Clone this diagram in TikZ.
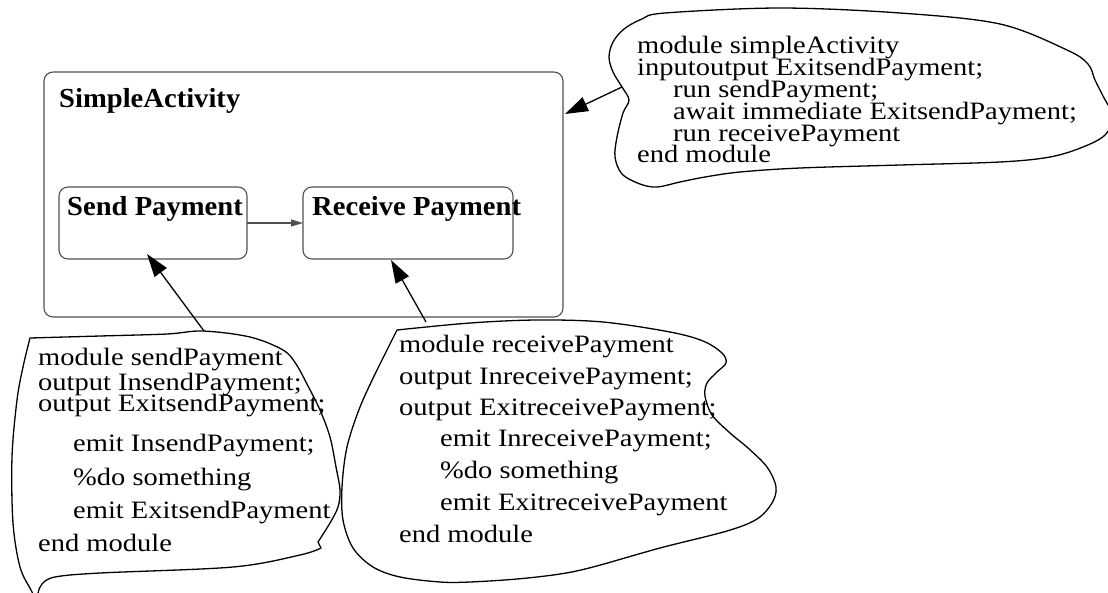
\documentclass[tikz,border=0pt]{standalone}
\usepackage{fontspec}
\newfontfamily\codefont[FakeStretch=1.14]{Liberation Serif}
\newfontfamily\labfont[FakeStretch=1.04]{Liberation Serif}
\usetikzlibrary{arrows.meta}
\definecolor{boxgray}{RGB}{80,80,80}
\tikzset{
 box/.style={draw=boxgray, line width=1.1pt, rounded corners=9pt, inner sep=0pt, outer sep=0pt},
 code/.style={font=\codefont\fontsize{25}{25}\selectfont, inner sep=0pt, anchor=base west},
 lab/.style={font=\labfont\fontsize{27.5}{27.5}\selectfont\bfseries, inner sep=0pt, anchor=base west},
 callout/.style={draw=black, line width=1.3pt, line join=round},
 bigarrow/.style={draw=black, line width=1.3pt, -{Triangle[length=23pt,width=15pt]}},
 smallarrow/.style={draw=boxgray, line width=1.1pt, -{Triangle[length=12pt,width=7pt]}},
}
\begin{document}
\begin{tikzpicture}[x=1pt,y=-1pt]
\useasboundingbox (0,0) rectangle (1108,592);
\clip (0,0) rectangle (1108,592);
% boxes
\node[box, minimum width=519pt, minimum height=245pt] (outer) at (303.5,194.5) {};
\node[box, minimum width=188pt, minimum height=72pt] (send) at (153,223) {};
\node[box, minimum width=210pt, minimum height=72pt] (recv) at (408,223) {};
\node[lab] (outerlab) at (59,107) {SimpleActivity};
\node[lab] (sendlab) at (67,215) {Send Payment};
\node[lab] (recvlab) at (312,215) {Receive Payment};
\draw[smallarrow] (send.east) -- (recv.west);

% top callout
\draw[callout] plot[smooth cycle, tension=0.55] coordinates {(609,57) (613,42) (624,29) (642,19) (665,13) (780,8) (900,13) (1000,24) (1067,50) (1088,64) (1095,80) (1103,96) (1113,117) (1105,135) (1083,147) (1050,157) (1000,162) (900,165) (800,168) (740,172) (705,177) (680,182) (657,187) (640,184) (622,174) (615,157) (617,137) (623,113) (629,100) (622,87) (613,72)};
\node[code] (t1) at (637,53) {module simpleActivity};
\node[code] (t2) at (637,75) {inputoutput ExitsendPayment;};
\node[code] (t3) at (673,97) {run sendPayment;};
\node[code] (t4) at (673,119) {await immediate ExitsendPayment;};
\node[code] (t5) at (673,141) {run receivePayment};
\node[code] (t6) at (637,162) {end module};

% send callout
\draw[callout] plot[smooth, tension=0.55] coordinates {(30,338) (100,336) (167,334) (203,331) (250,337) (283,350) (296,364) (308,386) (320,410) (330,437) (336,467) (340,490) (338,507) (330,523) (318,542)} -- (321,548) -- plot[smooth, tension=0.55] coordinates {(321,548) (300,555) (233,567) (100,573) (55,577) (42,584) (38,593) (37,602)} -- plot[smooth, tension=0.55] coordinates {(37,602) (31,590) (20,567) (13,523) (12,457) (17,400) (23,367) (30,338)} -- cycle;
\node[code] (s1) at (38,365) {module sendPayment};
\node[code] (s2) at (38,390) {output InsendPayment;};
\node[code] (s3) at (38,411) {output ExitsendPayment;};
\node[code] (s4) at (73,451) {emit InsendPayment;};
\node[code] (s5) at (73,485) {\%do something};
\node[code] (s6) at (73,518) {emit ExitsendPayment};
\node[code] (s7) at (38,551) {end module};

% receive callout
\draw[callout] plot[smooth, tension=0.55] coordinates {(397,330) (470,323) (537,320) (603,322) (670,332) (703,341) (722,353) (726,363) (717,372) (707,383) (705,396) (712,415) (730,433) (748,448) (767,467) (776,487) (772,503) (757,519) (727,531) (660,548) (593,567) (560,574) (517,579) (470,582) (440,582) (400,577) (373,567) (353,548) (343,520) (342,487) (347,447) (360,407) (377,370)} -- cycle;
\node[code] (r1) at (399,352) {module receivePayment};
\node[code] (r2) at (399,384) {output InreceivePayment;};
\node[code] (r3) at (399,415) {output ExitreceivePayment;};
\node[code] (r4) at (440,446) {emit InreceivePayment;};
\node[code] (r5) at (440,478) {\%do something};
\node[code] (r6) at (440,510) {emit ExitreceivePayment};
\node[code] (r7) at (399,542) {end module};

% connectors
\coordinate (sendtail) at (204,331);
\coordinate (sendtip) at ([xshift=-6pt,yshift=5pt]send.south);
\coordinate (recvtail) at (426,322);
\coordinate (recvtip) at ([xshift=-17pt,yshift=-1pt]recv.south);
\coordinate (toptail) at (622,87);
\coordinate (toptip) at ([xshift=2pt,yshift=-42pt]outer.north east);
\draw[bigarrow] (sendtail) -- (sendtip);
\draw[bigarrow] (recvtail) -- (recvtip);
\draw[bigarrow] (toptail) -- (toptip);
\end{tikzpicture}
\end{document}
